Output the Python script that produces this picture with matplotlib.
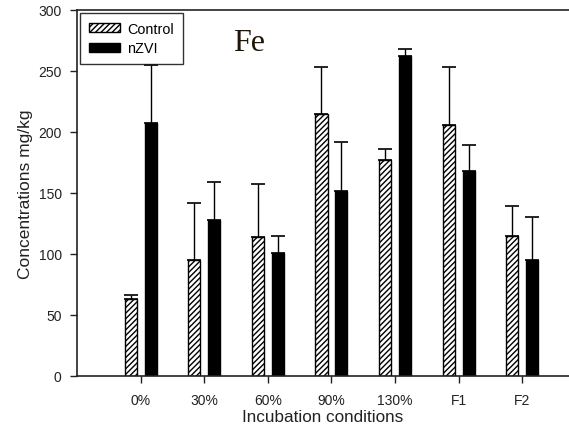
import matplotlib
matplotlib.use("Agg")
import matplotlib.pyplot as plt
import matplotlib.transforms as mtransforms
import numpy as np

plt.rcParams['font.family'] = ['Liberation Sans', 'DejaVu Sans']
plt.rcParams['hatch.linewidth'] = 1.0

categories = ["0%", "30%", "60%", "90%", "130%", "F1", "F2"]
control = [63, 95, 114, 215, 177, 206, 115]
control_err = [3, 47, 43, 38, 9, 47, 24]
nzvi = [207, 128, 101, 152, 262, 168, 95]
nzvi_err = [48, 31, 14, 40, 6, 21, 35]

fig = plt.figure(figsize=(5.69, 4.31), dpi=100)
ax = fig.add_axes([0.1353, 0.1253, 0.8647, 0.8492])

x = np.arange(1, len(categories) + 1)
off = 0.157
w = 0.19

ax.bar(x - off, control, width=w, color="white", edgecolor="black",
       hatch="//////", linewidth=1.0, label="Control", zorder=2)
ax.bar(x + off, nzvi, width=w, color="black", edgecolor="black",
       linewidth=1.0, label="nZVI", zorder=2)

ax.errorbar(x - off, control, yerr=[np.zeros(len(control)), control_err],
            fmt="none", ecolor="black", elinewidth=1.0, capsize=5, capthick=1.2, zorder=3)
ax.errorbar(x + off, nzvi, yerr=[np.zeros(len(nzvi)), nzvi_err],
            fmt="none", ecolor="black", elinewidth=1.0, capsize=5, capthick=1.2, zorder=3)

ax.set_xlim(0, 7.734)
ax.set_ylim(0, 300)
ax.set_xticks(x)
ax.set_xticklabels(categories)
ax.set_yticks([0, 50, 100, 150, 200, 250, 300])

ax.spines['right'].set_visible(False)
for s in ['left', 'bottom', 'top']:
    ax.spines[s].set_linewidth(1.2)
    ax.spines[s].set_color('#222222')

ax.tick_params(axis='both', direction='out', length=5, width=1.0,
               labelsize=10, labelcolor='#222222', color='#222222', pad=6)
ax.tick_params(axis='x', pad=7)

ax.set_xlabel("Incubation conditions", fontsize=12.3, color='#222222', labelpad=2)
ax.set_ylabel("Concentrations mg/kg", fontsize=12.5, color='#222222', labelpad=4)

leg = ax.legend(loc='upper left', bbox_to_anchor=(0.0, 1.0), fontsize=10.4,
                frameon=True, fancybox=False, edgecolor='black',
                handlelength=2.2, handleheight=0.6, handletextpad=0.5,
                borderpad=0.6, labelspacing=0.4, borderaxespad=0.2)
leg.get_frame().set_linewidth(1.0)

# element label, positioned in pixels measured from the top-left of the figure
top_left = mtransforms.Affine2D().scale(1, -1).translate(0, fig.bbox.height)
ax.text(249, 51, "Fe", transform=top_left, fontsize=23, family='Liberation Serif',
        color='#1e1608', ha='center', va='baseline')

fig.savefig("out.png", dpi=100)
